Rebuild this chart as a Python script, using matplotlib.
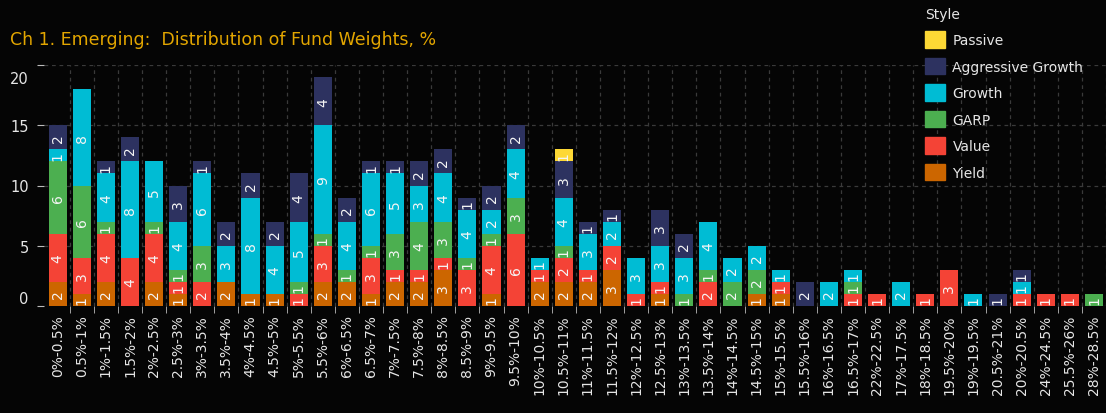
import matplotlib
matplotlib.use("Agg")
import matplotlib.pyplot as plt
import numpy as np
from matplotlib.patches import Patch
from matplotlib.transforms import ScaledTranslation

# categories (weight buckets) as shown on the x axis
buckets = ['0%-0.5%', '0.5%-1%', '1%-1.5%', '1.5%-2%', '2%-2.5%', '2.5%-3%', '3%-3.5%',
           '3.5%-4%', '4%-4.5%', '4.5%-5%', '5%-5.5%', '5.5%-6%', '6%-6.5%', '6.5%-7%',
           '7%-7.5%', '7.5%-8%', '8%-8.5%', '8.5%-9%', '9%-9.5%', '9.5%-10%', '10%-10.5%',
           '10.5%-11%', '11%-11.5%', '11.5%-12%', '12%-12.5%', '12.5%-13%', '13%-13.5%',
           '13.5%-14%', '14%-14.5%', '14.5%-15%', '15%-15.5%', '15.5%-16%', '16%-16.5%',
           '16.5%-17%', '22%-22.5%', '17%-17.5%', '18%-18.5%', '19.5%-20%', '19%-19.5%',
           '20.5%-21%', '20%-20.5%', '24%-24.5%', '25.5%-26%', '28%-28.5%']

# fund counts per style, stacked bottom -> top
yield_ = [2, 1, 2, 0, 2, 1, 0, 2, 1, 1, 0, 2, 2, 1, 2, 2, 3, 0, 1, 0, 2, 2,
          2, 3, 0, 1, 0, 0, 0, 1, 1, 0, 0, 0, 0, 0, 0, 0, 0, 0, 0, 0, 0, 0]
value = [4, 3, 4, 4, 4, 1, 2, 0, 0, 0, 1, 3, 0, 3, 1, 1, 1, 3, 4, 6, 1, 2,
         1, 2, 1, 1, 0, 2, 0, 0, 1, 0, 0, 1, 1, 0, 1, 3, 0, 0, 1, 1, 1, 0]
garp = [6, 6, 1, 0, 1, 1, 3, 0, 0, 0, 1, 1, 1, 1, 3, 4, 3, 1, 1, 3, 0, 1,
        0, 0, 0, 0, 1, 1, 2, 2, 0, 0, 0, 1, 0, 0, 0, 0, 0, 0, 0, 0, 0, 1]
growth = [1, 8, 4, 8, 5, 4, 6, 3, 8, 4, 5, 9, 4, 6, 5, 3, 4, 4, 2, 4, 1, 4,
          3, 2, 3, 3, 3, 4, 2, 2, 1, 0, 2, 1, 0, 2, 0, 0, 1, 0, 1, 0, 0, 0]
aggressive = [2, 0, 1, 2, 0, 3, 1, 2, 2, 2, 4, 4, 2, 1, 1, 2, 2, 1, 2, 2, 0, 3,
              1, 1, 0, 3, 2, 0, 0, 0, 0, 2, 0, 0, 0, 0, 0, 0, 0, 1, 1, 0, 0, 0]
passive = [0] * 21 + [1] + [0] * 22

series = [('Yield', yield_, '#cc6600'),
          ('Value', value, '#f44336'),
          ('GARP', garp, '#4caf50'),
          ('Growth', growth, '#00bcd4'),
          ('Aggressive Growth', aggressive, '#2d3260'),
          ('Passive', passive, '#fdd835')]

bg = '#050505'
txt = '#e6e6e6'

fig = plt.figure(figsize=(11.06, 4.14), dpi=100, facecolor=bg)
ax = fig.add_axes([44 / 1106, 107 / 414, 1062 / 1106, 241 / 414], facecolor=bg)

x = np.arange(len(buckets))
bottom = np.zeros(len(buckets))
for name, vals, col in series:
    vals = np.array(vals)
    bars = ax.bar(x, vals, 0.75, bottom=bottom, color=col, zorder=3)
    ax.bar_label(bars, labels=[str(v) if v else '' for v in vals], label_type='center',
                 rotation=90, color='#f5f5f5', fontsize=10, zorder=4)
    bottom += vals

ax.set_xlim(-0.57, 43.5)
ax.set_ylim(0, 20)

# grid between categories + horizontal levels
ax.set_xticks(x + 0.5, minor=True)
ax.set_xticks(x)
ax.set_xticklabels(buckets, rotation=90)
ax.set_yticks([0, 5, 10, 15, 20])
ax.grid(True, which='minor', axis='x', color='#3a3a3a', linestyle=(0, (3, 3)), lw=0.9, zorder=0)
ax.grid(True, which='major', axis='y', color='#3a3a3a', linestyle=(0, (3, 3)), lw=0.9, zorder=0)
ax.tick_params(axis='x', which='major', length=0, colors=txt, labelsize=10, pad=6)
ax.tick_params(axis='x', which='minor', length=5, color='#bbbbbb')
ax.tick_params(axis='y', length=5, color='#bbbbbb', colors=txt, labelsize=10.5, pad=6)
ylabs = ax.get_yticklabels()
ylabs[0].set_verticalalignment('bottom')
ylabs[-1].set_verticalalignment('top')
ylabs[-1].set_transform(ylabs[-1].get_transform() + ScaledTranslation(0, -0.06, fig.dpi_scale_trans))
for s in ax.spines.values():
    s.set_visible(False)

fig.text(10 / 1106, 1 - 40 / 414, 'Ch 1. Emerging:  Distribution of Fund Weights, %',
         color='#e3a600', fontsize=12.5, va='center', ha='left')

handles = [Patch(color=c, label=n) for n, v, c in series[::-1]]
leg = fig.legend(handles=handles, loc='upper left', bbox_to_anchor=(917 / 1106, 1.0),
                 frameon=False, title='Style', fontsize=10, title_fontsize=10,
                 handlelength=1.4, handleheight=1.45, labelspacing=0.72,
                 handletextpad=0.55, borderaxespad=0.2)
leg._legend_box.align = 'left'
leg.get_title().set_color(txt)
for t in leg.get_texts():
    t.set_color(txt)

fig.savefig('out.png', dpi=100, facecolor=bg)
